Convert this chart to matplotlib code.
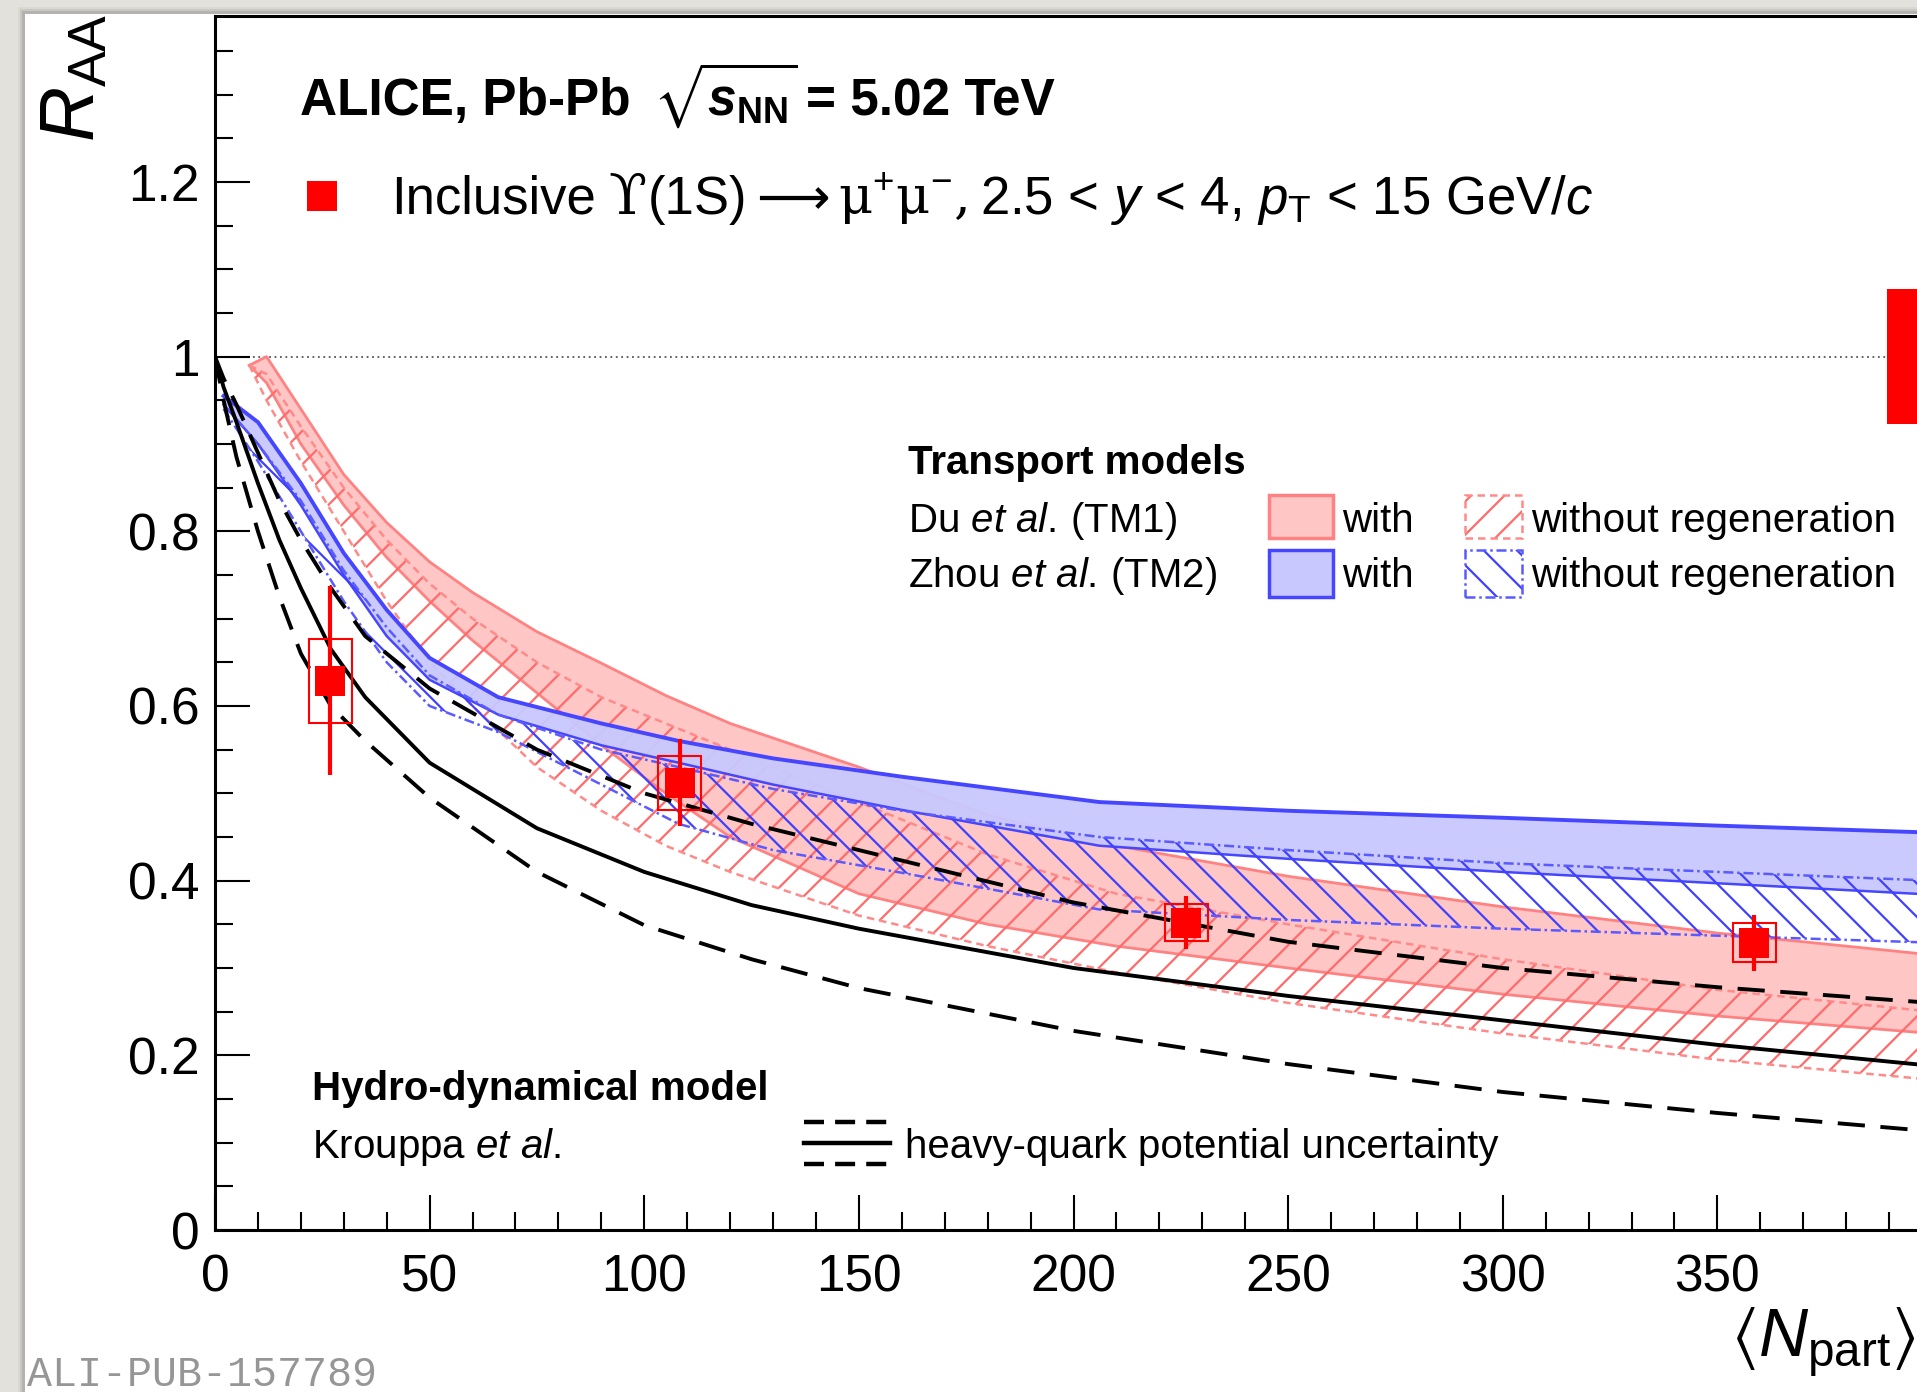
import matplotlib
matplotlib.use("Agg")
import matplotlib.pyplot as plt
from matplotlib.patches import Rectangle
from matplotlib.lines import Line2D
import numpy as np

plt.rcParams['font.family'] = ['Liberation Sans', 'DejaVu Sans']
plt.rcParams['mathtext.fontset'] = 'custom'
plt.rcParams['mathtext.rm'] = 'Liberation Sans'
plt.rcParams['mathtext.it'] = 'Liberation Sans:italic'
plt.rcParams['mathtext.bf'] = 'Liberation Sans:bold'
plt.rcParams['mathtext.fallback'] = 'stixsans'
plt.rcParams['hatch.linewidth'] = 1.6

# ---------------- data ----------------
npart_data = [26.8, 108.3, 226.3, 358.6]
raa_data = [0.629, 0.512, 0.352, 0.329]
raa_stat = [0.108, 0.050, 0.030, 0.032]
raa_syst = [0.048, 0.031, 0.021, 0.022]
global_unc = 0.077

# Du et al. (TM1)
tm1_x = [8, 12, 20, 30, 40, 50, 60, 75, 90, 105, 120, 150, 180, 210, 250, 300, 350, 400]
tm1_with_hi = [0.99, 1.00, 0.94, 0.865, 0.81, 0.765, 0.73, 0.685, 0.649, 0.612, 0.58, 0.53, 0.475, 0.44, 0.405, 0.37, 0.34, 0.315]
tm1_with_lo = [0.99, 0.97, 0.90, 0.83, 0.77, 0.72, 0.675, 0.615, 0.555, 0.50, 0.45, 0.385, 0.35, 0.325, 0.30, 0.27, 0.245, 0.225]
tm1_wo_hi = [0.99, 0.98, 0.92, 0.85, 0.79, 0.74, 0.70, 0.65, 0.61, 0.58, 0.55, 0.49, 0.43, 0.385, 0.35, 0.31, 0.275, 0.25]
tm1_wo_lo = [0.99, 0.95, 0.88, 0.80, 0.72, 0.65, 0.60, 0.53, 0.48, 0.44, 0.41, 0.36, 0.325, 0.295, 0.26, 0.225, 0.195, 0.172]

# Zhou et al. (TM2)
tm2_x = [2, 10, 20, 30, 40, 50, 66, 90, 108, 130, 160, 206, 250, 300, 350, 400]
tm2_with_hi = [0.955, 0.925, 0.855, 0.775, 0.71, 0.655, 0.61, 0.58, 0.56, 0.54, 0.519, 0.49, 0.48, 0.472, 0.463, 0.455]
tm2_with_lo = [0.945, 0.90, 0.83, 0.75, 0.68, 0.63, 0.59, 0.555, 0.535, 0.51, 0.481, 0.44, 0.425, 0.41, 0.397, 0.384]
tm2_wo_hi = [0.945, 0.90, 0.835, 0.755, 0.69, 0.635, 0.59, 0.55, 0.53, 0.505, 0.48, 0.45, 0.435, 0.42, 0.41, 0.40]
tm2_wo_lo = [0.94, 0.88, 0.80, 0.72, 0.65, 0.60, 0.57, 0.51, 0.465, 0.435, 0.409, 0.367, 0.355, 0.345, 0.337, 0.329]

# Krouppa et al. (hydro-dynamical)
hydro_x = [0, 2, 5, 10, 15, 20, 27, 35, 50, 75, 100, 125, 150, 200, 250, 300, 350, 400]
hydro_central = [1.0, 0.965, 0.925, 0.855, 0.79, 0.735, 0.665, 0.61, 0.535, 0.46, 0.41, 0.372, 0.345, 0.30, 0.268, 0.24, 0.212, 0.188]
hydro_upper = [1.0, 0.975, 0.945, 0.89, 0.835, 0.79, 0.735, 0.68, 0.62, 0.55, 0.50, 0.465, 0.435, 0.375, 0.33, 0.30, 0.278, 0.26]
hydro_lower = [1.0, 0.95, 0.885, 0.80, 0.725, 0.66, 0.60, 0.56, 0.495, 0.41, 0.349, 0.31, 0.277, 0.228, 0.19, 0.158, 0.134, 0.113]

x_ticks = [0, 50, 100, 150, 200, 250, 300, 350]
y_ticks = [0, 0.2, 0.4, 0.6, 0.8, 1.0, 1.2]
y_tick_labels = ['0', '0.2', '0.4', '0.6', '0.8', '1', '1.2']

# ---------------- figure ----------------
W, H = 1917, 1392
fig = plt.figure(figsize=(W / 100, H / 100), dpi=100)
fig.patch.set_facecolor('#e3e1dc')
renderer = fig.canvas.get_renderer()


def fx(px):
    return px / W


def fy(py):
    return 1 - py / H


# soft shadow and white sheet
for i, a in enumerate([0.04, 0.07, 0.10]):
    off = 7 - 2 * i
    fig.add_artist(Rectangle((fx(25 - off), 0), 1, fy(14 - off), transform=fig.transFigure,
                             facecolor='black', alpha=a, edgecolor='none', zorder=0))
fig.add_artist(Rectangle((fx(25), 0), 1, fy(14), transform=fig.transFigure,
                         facecolor='white', edgecolor='none', zorder=0))

ax = fig.add_axes([fx(215), 1 - 1230 / H, (1932 - 215) / W, (1230 - 16) / H])
ax.patch.set_alpha(0)
ax.set_xlim(0, 400)
ax.set_ylim(0, 1.39)

pink_fill = '#ffc6c6'
pink_edge = '#ff8282'
blue_fill = '#c8c8ff'
blue_edge = '#4646ff'
red_hatch = '#ff6a6a'
blue_hatch = '#4040ff'
red_dash = (0, (3, 2))
blue_dash = (0, (4, 1.5, 1, 1.5))

# TM1 with regeneration
ax.fill_between(tm1_x, tm1_with_lo, tm1_with_hi, facecolor=pink_fill, edgecolor='none', zorder=2)
ax.plot(tm1_x, tm1_with_hi, color=pink_edge, lw=2.0, zorder=2.1)
ax.plot(tm1_x, tm1_with_lo, color=pink_edge, lw=2.0, zorder=2.1)
# TM1 without regeneration
ax.fill_between(tm1_x, tm1_wo_lo, tm1_wo_hi, facecolor='none', edgecolor=red_hatch, hatch='/',
                linewidth=0, zorder=2.2)
ax.plot(tm1_x, tm1_wo_hi, color='#ff8a8a', lw=1.8, ls=red_dash, zorder=2.2)
ax.plot(tm1_x, tm1_wo_lo, color='#ff8a8a', lw=1.8, ls=red_dash, zorder=2.2)

# TM2 with regeneration
ax.fill_between(tm2_x, tm2_with_lo, tm2_with_hi, facecolor=blue_fill, edgecolor='none', alpha=0.95, zorder=3)
ax.plot(tm2_x, tm2_with_hi, color=blue_edge, lw=2.8, zorder=3.1)
ax.plot(tm2_x, tm2_with_lo, color=blue_edge, lw=1.8, zorder=3.1)
# TM2 without regeneration
ax.fill_between(tm2_x, tm2_wo_lo, tm2_wo_hi, facecolor='none', edgecolor=blue_hatch, hatch='\\',
                linewidth=0, zorder=3.2)
ax.plot(tm2_x, tm2_wo_hi, color='#5a5aff', lw=1.8, ls=blue_dash, zorder=3.2)
ax.plot(tm2_x, tm2_wo_lo, color='#5a5aff', lw=1.8, ls=blue_dash, zorder=3.2)

# hydro-dynamical model
ax.plot(hydro_x, hydro_central, color='black', lw=2.8, zorder=4)
ax.plot(hydro_x, hydro_upper, color='black', lw=2.8, ls=(0, (7, 4)), zorder=4)
ax.plot(hydro_x, hydro_lower, color='black', lw=2.8, ls=(0, (7, 4)), zorder=4)

# unity line and global uncertainty
ax.axhline(1.0, color='#555555', lw=1.3, ls=(0, (1, 2)), zorder=1)
ax.add_patch(Rectangle((389.5, 1 - global_unc), 12, 2 * global_unc, facecolor='red',
                       edgecolor='none', zorder=5))

# data: systematic boxes, statistical bars, markers
for x, y, st, sy in zip(npart_data, raa_data, raa_stat, raa_syst):
    ax.add_patch(Rectangle((x - 5, y - sy), 10, 2 * sy, facecolor='none', edgecolor='red',
                           lw=1.5, zorder=6))
ax.errorbar(npart_data, raa_data, yerr=raa_stat, fmt='s', color='red', ms=21, mew=0,
            elinewidth=3, capsize=5, capthick=3, zorder=7)

# axes styling
for side in ['left', 'bottom', 'top', 'right']:
    ax.spines[side].set_linewidth(2.2)
ax.set_xticks(x_ticks)
ax.set_xticks(np.arange(0, 401, 10), minor=True)
ax.set_yticks(y_ticks)
ax.set_yticklabels(y_tick_labels)
ax.set_yticks(np.arange(0, 1.391, 0.05), minor=True)
ax.tick_params(which='both', direction='in', width=1.5, labelsize=37, top=False, right=False)
ax.tick_params(which='major', length=25)
ax.tick_params(which='minor', length=13)
ax.tick_params(axis='x', pad=17)
ax.tick_params(axis='y', pad=11)

# axis titles
fig.text(fx(74), fy(14), r'$R_{\rm AA}$', fontsize=55, rotation=90, ha='center', va='top')
fig.text(fx(1915), fy(1356), r'$\langle N_{\rm part}\rangle$', fontsize=49, ha='right', va='baseline')


def text_run(x_px, y_px, pieces):
    """Place a sequence of differently styled text pieces one after another on a baseline."""
    x = x_px
    for s, gap, kw in pieces:
        x += gap
        t = fig.text(fx(x), fy(y_px), s, va='baseline', ha='left', **kw)
        bb = t.get_window_extent(renderer)
        x = bb.x1


# header
bold = dict(fontsize=37, fontweight='bold')
text_run(300, 115, [
    ('ALICE, Pb-Pb', 0, bold),
    (r'$\sqrt{\mathdefault{s}_{\mathbf{NN}}}$', 22, dict(fontsize=37, fontweight='bold', fontstyle='italic')),
    ('= 5.02 TeV', 8, bold),
])

fig.add_artist(Line2D([fx(322)], [fy(196)], marker='s', ms=21, color='red', mew=0,
                      transform=fig.transFigure))
base = dict(fontsize=38)
text_run(391, 214, [
    ('Inclusive', 0, base),
    ('ϒ', 13, dict(fontsize=40, family='DejaVu Serif')),
    ('(1S)', 1, base),
    ('⟶', 9, dict(fontsize=37, family='DejaVu Sans')),
    ('μ$^{+}$μ$^{-}$,', 8, dict(fontsize=38, family='DejaVu Serif')),
    (r'2.5 < $y$ < 4, $p_{\rm T}$ < 15 GeV/$c$', 13, base),
])

# transport models legend
fig.text(fx(908), fy(474), 'Transport models', fontsize=29, fontweight='bold', va='baseline')
fig.text(fx(908), fy(532), r'Du $\mathit{et\ al.}\,$(TM1)', fontsize=29, va='baseline')
fig.text(fx(908), fy(587), r'Zhou $\mathit{et\ al.}\,$(TM2)', fontsize=29, va='baseline')


def legend_box(x0, y0, x1, y1, **kw):
    fig.add_artist(Rectangle((fx(x0), fy(y1)), fx(x1) - fx(x0), fy(y0) - fy(y1),
                             transform=fig.transFigure, **kw))


legend_box(1269, 495, 1333, 538, facecolor=pink_fill, edgecolor=pink_edge, lw=2.5)
legend_box(1269, 550, 1333, 597, facecolor=blue_fill, edgecolor=blue_edge, lw=2.5)
legend_box(1465, 495, 1522, 538, facecolor='none', edgecolor=red_hatch, hatch='/', lw=0)
legend_box(1465, 495, 1522, 538, facecolor='none', edgecolor='#ff8a8a', lw=1.8, ls=red_dash)
legend_box(1465, 550, 1522, 597, facecolor='none', edgecolor=blue_hatch, hatch='\\', lw=0)
legend_box(1465, 550, 1522, 597, facecolor='none', edgecolor='#5a5aff', lw=1.8, ls=blue_dash)
fig.text(fx(1342), fy(532), 'with', fontsize=29, va='baseline')
fig.text(fx(1342), fy(587), 'with', fontsize=29, va='baseline')
fig.text(fx(1531), fy(532), 'without regeneration', fontsize=29, va='baseline')
fig.text(fx(1531), fy(587), 'without regeneration', fontsize=29, va='baseline')

# hydro legend
fig.text(fx(312), fy(1100), 'Hydro-dynamical model', fontsize=29, fontweight='bold', va='baseline')
fig.text(fx(312), fy(1158), r'Krouppa $\mathit{et\ al.}$', fontsize=29, va='baseline')
for yy, ls in [(1122, (0, (4.5, 2.5))), (1143, '-'), (1164, (0, (4.5, 2.5)))]:
    fig.add_artist(Line2D([fx(804), fx(890)], [fy(yy), fy(yy)], color='black', lw=3.2, ls=ls,
                          transform=fig.transFigure))
fig.text(fx(905), fy(1158), 'heavy-quark potential uncertainty', fontsize=29, va='baseline')

# publication id
fig.text(fx(27), fy(1386), 'ALI-PUB-157789', fontsize=30, family='Liberation Mono',
         color='#969696', va='baseline', ha='left')

fig.savefig('out.png', dpi=100, facecolor=fig.get_facecolor())
